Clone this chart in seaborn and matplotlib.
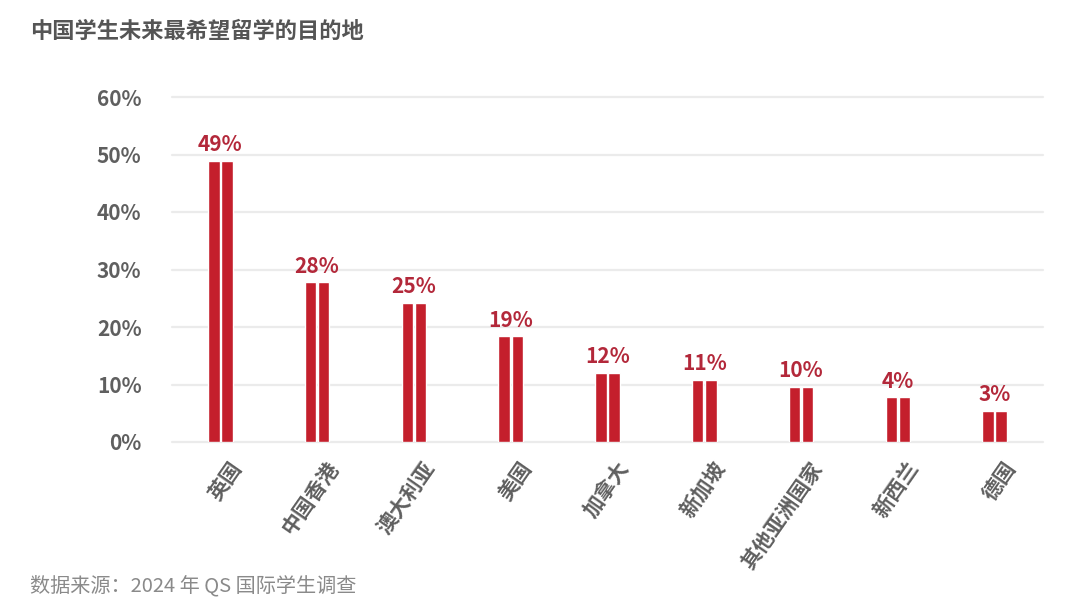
import matplotlib
matplotlib.use("Agg")
import matplotlib.pyplot as plt
import matplotlib.transforms as mtransforms
import seaborn as sns
import pandas as pd

# data
countries = ["英国", "中国香港", "澳大利亚", "美国", "加拿大", "新加坡", "其他亚洲国家", "新西兰", "德国"]
bar_heights = [48.9, 27.8, 24.2, 18.4, 12.0, 10.8, 9.6, 7.8, 5.4]   # drawn heights
value_labels = ["49%", "28%", "25%", "19%", "12%", "11%", "10%", "4%", "3%"]
y_ticks = [0, 10, 20, 30, 40, 50, 60]

sns.set_theme(style="white")
plt.rcParams["font.family"] = ["Noto Sans CJK SC", "DejaVu Sans"]

# each bar is drawn as a pair of thin twin bars
df = pd.DataFrame({
    "country": countries * 2,
    "value": bar_heights * 2,
    "part": ["a"] * len(countries) + ["b"] * len(countries),
})

fig = plt.figure(figsize=(10.8, 6.13), dpi=100)
ax = fig.add_axes([172 / 1080, 1 - 442 / 613, (1043 - 172) / 1080, (442 - 97) / 613])

red = "#c41f2c"
sns.barplot(data=df, x="country", y="value", hue="part", order=countries,
            palette=[red, red], saturation=1, width=0.27, gap=0.12,
            legend=False, ax=ax)

ax.set_ylim(0, 60)
ax.set_xlim(-0.5, len(countries) - 0.5)
for t in y_ticks:
    ax.axhline(t, color="#ebebeb", lw=1.6, zorder=0, clip_on=False)
ax.set_yticks(y_ticks)
ax.set_yticklabels([f"{t}%" for t in y_ticks], fontsize=15, fontweight="bold", color="#5f5f5f")
ax.tick_params(axis="y", length=0, pad=22)
ax.tick_params(axis="x", length=0, pad=0)
ax.set_xticks(range(len(countries)))
ax.set_xticklabels(countries, rotation=55, ha="right", rotation_mode="anchor",
                   fontsize=15, fontweight="bold", color="#5f5f5f")
shift = mtransforms.ScaledTranslation(8 / 100, -16 / 100, fig.dpi_scale_trans)
for lab in ax.get_xticklabels():
    lab.set_transform(lab.get_transform() + shift)
ax.set_xlabel("")
ax.set_ylabel("")
for s in ax.spines.values():
    s.set_visible(False)

for i, (h, lab) in enumerate(zip(bar_heights, value_labels)):
    ax.annotate(lab, (i, h), xytext=(0, 4), textcoords="offset points",
                ha="center", va="bottom", fontsize=15, fontweight="bold", color="#b3283a")

fig.text(30 / 1080, 1 - 31 / 613, "中国学生未来最希望留学的目的地", fontsize=16,
         fontweight="heavy", color="#555555", va="center", ha="left")
fig.text(30 / 1080, 1 - 586 / 613, "数据来源：2024 年 QS 国际学生调查", fontsize=14.5,
         fontweight="light", color="#8a8a8a", va="center", ha="left", style="italic")

fig.savefig("out.png", dpi=100, facecolor="white")
